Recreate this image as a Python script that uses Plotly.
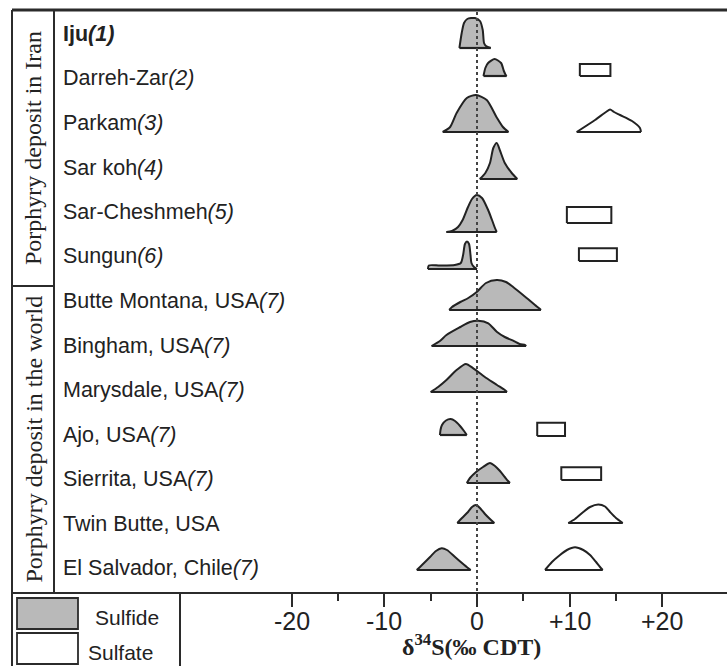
import plotly.graph_objects as go

W, H = 727, 666

# ---------------- data ----------------
deposits = ["Iju", "Darreh-Zar", "Parkam", "Sar koh", "Sar-Cheshmeh", "Sungun",
            "Butte Montana, USA", "Bingham, USA", "Marysdale, USA", "Ajo, USA",
            "Sierrita, USA", "Twin Butte, USA", "El Salvador, Chile"]
refs = ["(1)", "(2)", "(3)", "(4)", "(5)", "(6)", "(7)", "(7)", "(7)", "(7)",
        "(7)", "", "(7)"]
groups = ["Porphyry deposit in Iran", "Porphyry deposit in the world"]

# sulfide d34S distributions (x in permil CDT, relative frequency)
sulfide_x = [
    [-1.9, -1.65, -1.4, -1.05, -0.22, 0.32, 0.62, 0.76, 0.97, 1.48],
    [0.7, 0.9, 1.2, 1.9, 2.6, 2.9, 3.1, 3.2],
    [-3.7, -2.9, -2.2, -1.1, -0.1, 1.05, 2.1, 2.8, 3.4],
    [0.3, 0.9, 1.4, 1.76, 2.13, 2.5, 3.0, 3.75, 4.35],
    [-3.3, -2.7, -2.05, -1.55, -0.97, -0.54, -0.03, 0.54, 1.2, 1.62, 1.94, 2.13],
    [-5.3, -5.2, -4.0, -2.4, -1.75, -1.5, -1.3, -1.08, -0.86, -0.7, -0.6, -0.32, 0.0],
    [-3.0, -2.7, -1.8, -0.94, -0.03, 0.97, 2.13, 3.13, 3.9, 5.36, 6.26, 6.8, 6.9],
    [-4.9, -4.0, -3.3, -1.8, -0.76, 0.14, 1.22, 2.13, 3.0, 3.9, 4.6, 5.2, 5.3],
    [-5.0, -4.2, -3.3, -2.2, -1.2, -0.4, 1.05, 2.16, 3.0, 3.24],
    [-4.0, -3.94, -3.78, -3.35, -2.84, -2.37, -1.83, -1.4, -1.1],
    [-1.1, -0.76, -0.1, 0.65, 1.4, 1.94, 2.48, 3.0, 3.35, 3.56],
    [-2.13, -1.62, -0.97, -0.54, -0.11, 0.32, 0.86, 1.4, 1.87],
    [-6.5, -5.94, -5.07, -4.43, -3.81, -3.24, -2.37, -1.62, -0.97, -0.68],
]
sulfide_f = [
    [0, 15, 25, 29, 30, 27, 18, 5, 2, 0],
    [0, 8, 13, 17, 13, 5, 1, 0],
    [0, 5, 19, 34, 37, 32, 15, 5, 0],
    [0, 6, 16, 31, 36, 28, 16, 6, 0],
    [0, 1, 5, 12, 25, 33, 37, 34, 22, 12, 4, 0],
    [0, 3.5, 3.5, 4, 6, 14, 25, 27.5, 25, 14, 6, 2, 0],
    [0, 3, 8, 12, 18, 27, 30, 28, 23, 12, 5, 1, 0],
    [0, 5, 11, 19, 24, 25.3, 22.7, 14.3, 9, 5.3, 2, 1, 0],
    [0, 5, 12, 22, 28, 23.7, 13.7, 7, 2, 0],
    [0, 5, 10, 14.5, 16, 14, 9, 4, 0],
    [0, 5, 11, 16, 20, 17, 12, 6, 2, 0],
    [0, 5, 11, 16, 18, 15, 9, 4, 0],
    [0, 5, 13, 19, 21.7, 20, 13, 7, 2, 0],
]

# sulfate distributions (row index -> profile)
sulfate_profile_x = {
    2: [10.76, 12.74, 13.92, 14.36, 14.79, 15.44, 16.73, 17.59, 17.7],
    11: [9.85, 10.58, 11.47, 12.2, 13.09, 13.82, 14.36, 15.0, 15.73],
    12: [7.34, 8.09, 8.96, 9.71, 10.58, 11.47, 12.2, 12.85, 13.28, 13.57],
}
sulfate_profile_f = {
    2: [0, 12, 20, 22.5, 20, 17, 11, 4, 0],
    11: [0, 4, 11, 16, 18.5, 16.5, 11, 5, 0],
    12: [0, 8, 15, 20, 22.7, 20, 15, 8, 3, 0],
}
# sulfate ranges drawn as boxes (row index -> (min, max))
sulfate_range = {1: (11.1, 14.4), 4: (9.7, 14.5), 5: (11.0, 15.1),
                 9: (6.5, 9.5), 10: (9.1, 13.4)}

x_tick_vals = [-20, -10, 0, 10, 20]
x_tick_text = ["-20", "-10", "0", "+10", "+20"]
x_minor_vals = [-15, -5, 5, 15]
axis_title = "δ<sup>34</sup>S(‰ CDT)"
legend_items = ["Sulfide", "Sulfate"]

# ---------------- layout constants (pixels) ----------------
ROW0_PX, ROW_STEP_PX = 48, 43.5          # baseline of first row, spacing
ROW_NUDGE_PX = [0, -15.5, -3, 0.5, 10, 3.5, 1, -6.5, -4, -4.5, 0, -3.5, 0]
RECT_NUDGE_PX = {1: 0, 4: -9, 5: -8, 9: 1, 10: -3}
RECT_H_PX = {1: 12, 4: 16, 5: 12.7, 9: 13.3, 10: 12.7}
X0_PX, PX_PER_UNIT = 477, 9.265
PLOT_LEFT_PX, AXIS_PX, TOP_PX = 180, 593, 10
FRAME_L, COL_DIV, GROUP_DIV = 12, 54, 286
LABEL_X0, LABEL_Y0, LABEL_STEP = 61, 34, 44.5
TICKLABEL_Y = 621

SULFIDE_FILL = "#b9b9b9"
INK = "#222222"
FRAME = "#2b2b2b"
SANS = "Liberation Sans, Arial, sans-serif"
SERIF = "Liberation Serif, Times New Roman, serif"


def px(x):
    return x / W


def py(y):
    return 1 - y / H


def base_row(i):
    return i + ROW_NUDGE_PX[i] / ROW_STEP_PX


def hrow(h):
    return h / ROW_STEP_PX


fig = go.Figure()


def add_shape_trace(xs, fs, base, fill):
    ys = [base - hrow(f) for f in fs]
    fig.add_trace(go.Scatter(x=xs, y=ys, mode="lines", fill="toself",
                             fillcolor=fill,
                             line=dict(color=INK, width=2, shape="spline", smoothing=0.7),
                             hoverinfo="skip", showlegend=False))
    fig.add_trace(go.Scatter(x=[xs[0], xs[-1]], y=[base, base], mode="lines",
                             line=dict(color=INK, width=2.2),
                             hoverinfo="skip", showlegend=False))


for i in range(len(deposits)):
    b = base_row(i)
    add_shape_trace(sulfide_x[i], sulfide_f[i], b, SULFIDE_FILL)
    if i in sulfate_profile_x:
        add_shape_trace(sulfate_profile_x[i], sulfate_profile_f[i], b, "white")
    if i in sulfate_range:
        lo, hi = sulfate_range[i]
        bot = b + RECT_NUDGE_PX[i] / ROW_STEP_PX
        top = bot - hrow(RECT_H_PX[i])
        fig.add_trace(go.Scatter(x=[lo, hi, hi, lo, lo], y=[bot, bot, top, top, bot],
                                 mode="lines", fill="toself", fillcolor="white",
                                 line=dict(color=INK, width=2),
                                 hoverinfo="skip", showlegend=False))

annotations = []
for i, (name, ref) in enumerate(zip(deposits, refs)):
    if i == 0:
        txt = "<b>%s<i>%s</i></b>" % (name, ref)
    else:
        txt = "%s<i>%s</i>" % (name, ref)
    annotations.append(dict(x=px(LABEL_X0), y=py(LABEL_Y0 + LABEL_STEP * i),
                            xref="paper", yref="paper", text=txt, showarrow=False,
                            xanchor="left", yanchor="middle",
                            font=dict(family=SANS, size=21.5, color=INK)))

group_spans = [(TOP_PX, GROUP_DIV), (GROUP_DIV, AXIS_PX)]
for g, (a, b) in zip(groups, group_spans):
    annotations.append(dict(x=px((FRAME_L + COL_DIV) / 2), y=py((a + b) / 2),
                            xref="paper", yref="paper", text=g, showarrow=False,
                            textangle=-90, xanchor="center", yanchor="middle",
                            font=dict(family=SERIF, size=24, color=INK)))

for v, t in zip(x_tick_vals, x_tick_text):
    annotations.append(dict(x=v, y=py(TICKLABEL_Y), xref="x", yref="paper",
                            text=t, showarrow=False, xanchor="center",
                            yanchor="middle",
                            font=dict(family=SANS, size=25, color=INK)))

annotations.append(dict(x=px(472), y=py(645), xref="paper", yref="paper",
                        text="<b>%s</b>" % axis_title, showarrow=False,
                        xanchor="center", yanchor="middle",
                        font=dict(family=SERIF, size=24, color=INK)))
annotations.append(dict(x=px(127), y=py(617), xref="paper", yref="paper",
                        text=legend_items[0], showarrow=False,
                        xanchor="center", yanchor="middle",
                        font=dict(family=SANS, size=21, color=INK)))
annotations.append(dict(x=px(120), y=py(652), xref="paper", yref="paper",
                        text=legend_items[1], showarrow=False,
                        xanchor="center", yanchor="middle",
                        font=dict(family=SANS, size=21, color=INK)))


def line(x0, y0, x1, y1, w=2, color=FRAME):
    return dict(type="line", xref="paper", yref="paper", x0=px(x0), y0=py(y0),
                x1=px(x1), y1=py(y1), line=dict(color=color, width=w), layer="above")


shapes = [
    line(FRAME_L, TOP_PX, W + 2, TOP_PX, w=3),
    line(FRAME_L, TOP_PX, FRAME_L, H + 2, w=2),
    line(COL_DIV, TOP_PX, COL_DIV, AXIS_PX, w=2),
    line(FRAME_L, GROUP_DIV, COL_DIV, GROUP_DIV, w=2),
    line(FRAME_L, AXIS_PX, W + 2, AXIS_PX, w=2),
    line(PLOT_LEFT_PX, AXIS_PX, PLOT_LEFT_PX, H + 2, w=2),
    dict(type="rect", xref="paper", yref="paper", x0=px(17), x1=px(78),
         y0=py(598), y1=py(629), fillcolor=SULFIDE_FILL,
         line=dict(color=FRAME, width=1.8)),
    dict(type="rect", xref="paper", yref="paper", x0=px(17), x1=px(78),
         y0=py(633), y1=py(664), fillcolor="white",
         line=dict(color=FRAME, width=1.8)),
    dict(type="line", xref="x", yref="paper", x0=0, x1=0,
         y0=py(TOP_PX + 2), y1=py(AXIS_PX), layer="above",
         line=dict(color="#444444", width=2, dash="dot")),
]

xr = [(PLOT_LEFT_PX - X0_PX) / PX_PER_UNIT, (W - X0_PX) / PX_PER_UNIT]
yr = [(AXIS_PX - ROW0_PX) / ROW_STEP_PX, (0 - ROW0_PX) / ROW_STEP_PX]

fig.update_layout(
    width=W, height=H, margin=dict(l=0, r=0, t=0, b=0),
    paper_bgcolor="white", plot_bgcolor="rgba(0,0,0,0)",
    showlegend=False, annotations=annotations, shapes=shapes,
    xaxis=dict(domain=[px(PLOT_LEFT_PX), 1], range=xr, showgrid=False,
               zeroline=False, showline=False, ticks="outside", ticklen=13,
               tickwidth=2, tickcolor=FRAME, tickvals=x_tick_vals,
               showticklabels=False,
               minor=dict(tickvals=x_minor_vals, ticks="outside", ticklen=7,
                          tickwidth=2, tickcolor=FRAME, showgrid=False),
               fixedrange=True),
    yaxis=dict(domain=[py(AXIS_PX), 1], range=yr, visible=False, fixedrange=True),
)

fig.write_html("out.html")
